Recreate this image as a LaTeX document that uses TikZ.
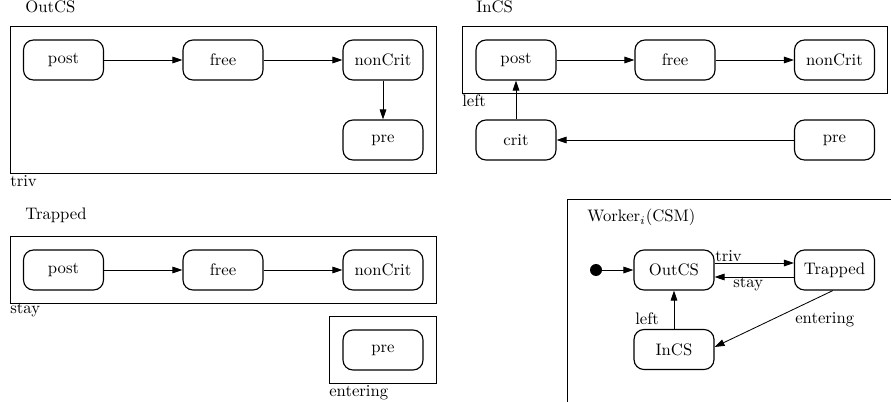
\documentclass[tikz,border=0pt]{standalone}
\usetikzlibrary{arrows.meta}
\begin{document}
\begin{tikzpicture}[x=0.6pt,y=-0.6pt,
  state/.style={draw, rounded corners=6pt, minimum width=48pt, minimum height=24pt, line width=0.7pt, inner sep=0pt},
  frame/.style={draw, line width=0.5pt},
  lbl/.style={anchor=base west, inner sep=0pt},
  trans/.style={-{Triangle[length=6pt,width=4pt]}, line width=0.5pt}]
\useasboundingbox (0,0) rectangle (891,402);

% ---- OutCS ----
\node[lbl] (tOut) at (25,13) {OutCS};
\draw[frame] (10,26) rectangle (436,173);
\node[state] (o1) at (63.5,60) {post};
\node[state] (o2) at (223,60) {free};
\node[state] (o3) at (383,60) {nonCrit};
\node[state] (o4) at (383,140) {pre};
\draw[trans] (o1) -- (o2);
\draw[trans] (o2) -- (o3);
\draw[trans] (o3) -- (o4);
\node[lbl] (lTriv) at (10,187) {triv};

% ---- InCS ----
\node[lbl] (tIn) at (476,13) {InCS};
\draw[frame] (462,26) rectangle (887,93);
\node[state] (i1) at (516,60) {post};
\node[state] (i2) at (675,60) {free};
\node[state] (i3) at (834.5,60) {nonCrit};
\node[state] (i4) at (516,140) {crit};
\node[state] (i5) at (834.5,140) {pre};
\draw[trans] (i1) -- (i2);
\draw[trans] (i2) -- (i3);
\draw[trans] (i5) -- (i4);
\draw[trans] (i4) -- (i1);
\node[lbl] (lLeft) at (462,107) {left};

% ---- Trapped ----
\node[lbl] (tTr) at (25,219) {Trapped};
\draw[frame] (10,236) rectangle (436,303);
\node[state] (p1) at (63.5,270) {post};
\node[state] (p2) at (223,270) {free};
\node[state] (p3) at (383,270) {nonCrit};
\draw[trans] (p1) -- (p2);
\draw[trans] (p2) -- (p3);
\node[lbl] (lStay) at (10,313) {stay};
\draw[frame] (329,316) rectangle (436,383);
\node[state] (p4) at (383,350) {pre};
\node[lbl] (lEnt) at (329,396) {entering};

% ---- Worker_i (CSM) ----
\draw[frame] (567,402) -- (567,199.5) -- (891,199.5);
\node[lbl] (tW) at (587,222) {Worker$_i$(CSM)};
\fill (596,270) circle[radius=3.6pt];
\coordinate (init) at (596,270);
\node[state] (wOut) at (674,270) {OutCS};
\node[state] (wTr) at (834.5,270) {Trapped};
\node[state] (wIn) at (674,349.5) {InCS};
\draw[trans] (init) -- (wOut);
\draw[trans] ([yshift=4.2pt]wOut.east) -- ([yshift=4.2pt]wTr.west);
\draw[trans] ([yshift=-4.2pt]wTr.west) -- ([yshift=-4.2pt]wOut.east);
\draw[trans] (wIn) -- (wOut);
\draw[trans] ([xshift=-1pt]wTr.south) -- ([yshift=1.5pt]wIn.east);
\node[lbl] (eTriv) at (715,261) {triv};
\node[lbl] (eStay) at (733,287) {stay};
\node[lbl] (eLeft) at (635,324) {left};
\node[lbl] (eEnt) at (795,323) {entering};
\end{tikzpicture}
\end{document}
